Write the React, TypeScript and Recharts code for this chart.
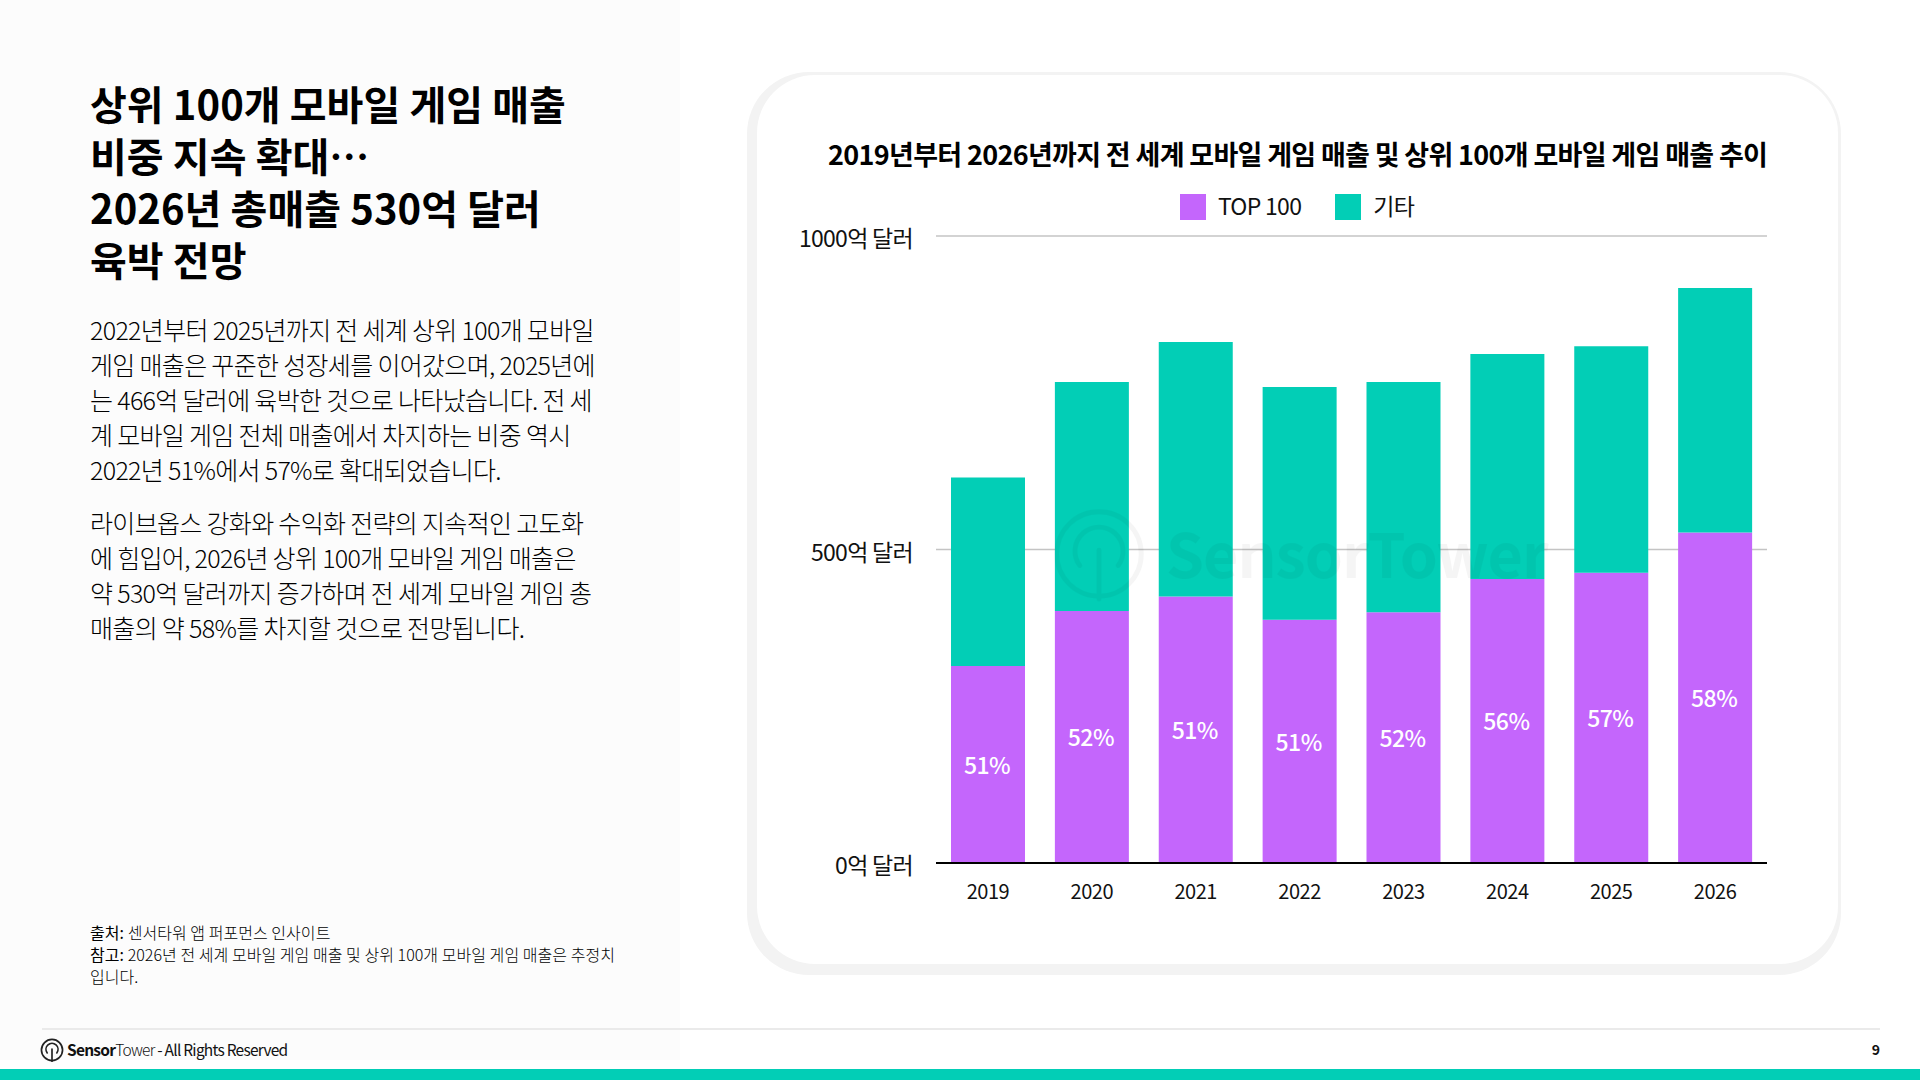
import { Bar, BarChart, CartesianGrid, LabelList, Legend, XAxis, YAxis } from "recharts";

const FONT = '"Noto Sans CJK KR", "Noto Sans", sans-serif';
const PURPLE = "#C466FC";
const TEAL = "#02CEB6";

const years = ["2019", "2020", "2021", "2022", "2023", "2024", "2025", "2026"];
const top100 = [314, 402, 425, 388, 400, 453, 463, 527];
const others = [301, 365, 406, 371, 367, 359, 361, 390];
const shares = [51, 52, 51, 51, 52, 56, 57, 58];
const yTicks = [0, 500, 1000];

const headingLines = ["상위 100개 모바일 게임 매출", "비중 지속 확대…", "2026년 총매출 530억 달러", "육박 전망"];
const para1 = [
  "2022년부터 2025년까지 전 세계 상위 100개 모바일",
  "게임 매출은 꾸준한 성장세를 이어갔으며, 2025년에",
  "는 466억 달러에 육박한 것으로 나타났습니다. 전 세",
  "계 모바일 게임 전체 매출에서 차지하는 비중 역시",
  "2022년 51%에서 57%로 확대되었습니다.",
];
const para2 = [
  "라이브옵스 강화와 수익화 전략의 지속적인 고도화",
  "에 힘입어, 2026년 상위 100개 모바일 게임 매출은",
  "약 530억 달러까지 증가하며 전 세계 모바일 게임 총",
  "매출의 약 58%를 차지할 것으로 전망됩니다.",
];

const data = years.map((year, i) => ({
  year,
  top100: top100[i],
  others: others[i],
  share: shares[i],
}));

function Logo({ size, color, width }: { size: number; color: string; width: number }) {
  return (
    <svg width={size} height={size} viewBox="0 0 100 100" style={{ display: "block" }}>
      <g fill="none" stroke={color} strokeWidth={width} strokeLinecap="round">
        <circle cx="50" cy="50" r="44" />
        <path d="M30 62 A25 25 0 1 1 70 62" />
        <path d="M50 46 V97" />
      </g>
    </svg>
  );
}

function Lines({
  lines,
  top,
  lineHeight,
  style,
}: {
  lines: string[];
  top: number;
  lineHeight: number;
  style: React.CSSProperties;
}) {
  return (
    <div style={{ position: "absolute", left: 90, top, lineHeight: `${lineHeight}px`, whiteSpace: "nowrap", ...style }}>
      {lines.map((line) => (
        <div key={line}>{line}</div>
      ))}
    </div>
  );
}

export default function App() {
  return (
    <div
      style={{
        position: "absolute",
        left: 0,
        top: 0,
        width: 1920,
        height: 1080,
        background: "#fff",
        overflow: "hidden",
        fontFamily: FONT,
        color: "#111",
      }}
    >
      <div style={{ position: "absolute", left: 0, top: 0, width: 680, height: 1060, background: "#fcfcfc" }} />

      <Lines
        lines={headingLines}
        top={76.5}
        lineHeight={52}
        style={{ fontSize: 40, fontWeight: 700, letterSpacing: 0.05, color: "#000" }}
      />
      <Lines lines={para1} top={312} lineHeight={34.9} style={{ fontSize: 25, fontWeight: 300, letterSpacing: -0.67, color: "#000" }} />
      <Lines lines={para2} top={505} lineHeight={35} style={{ fontSize: 25, fontWeight: 300, letterSpacing: -0.67, color: "#000" }} />

      <div style={{ position: "absolute", left: 90, top: 921, fontSize: 16, fontWeight: 300, lineHeight: "22px", letterSpacing: 0.05, whiteSpace: "nowrap", color: "#000" }}>
        <div>
          <b>출처:</b> 센서타워 앱 퍼포먼스 인사이트
        </div>
        <div>
          <b>참고:</b> 2026년 전 세계 모바일 게임 매출 및 상위 100개 모바일 게임 매출은 추정치
        </div>
        <div>입니다.</div>
      </div>

      {/* card */}
      <div style={{ position: "absolute", left: 747, top: 72, width: 1094, height: 903, borderRadius: 62, background: "#f3f3f3" }} />
      <div style={{ position: "absolute", left: 757, top: 75, width: 1081, height: 889, borderRadius: 58, background: "#fff" }} />

      <div
        style={{
          position: "absolute",
          left: 757,
          width: 1081,
          top: 134,
          paddingLeft: 71,
          boxSizing: "border-box",
          fontSize: 27,
          lineHeight: "40px",
          fontWeight: 700,
          letterSpacing: -0.68,
          whiteSpace: "nowrap",
          color: "#000",
        }}
      >
        2019년부터 2026년까지 전 세계 모바일 게임 매출 및 상위 100개 모바일 게임 매출 추이
      </div>

      <div style={{ position: "absolute", left: 757, top: 180 }}>
        <BarChart
          width={1081}
          height={740}
          data={data}
          margin={{ top: 56, right: 71, bottom: 0, left: 0 }}
        >
          <CartesianGrid vertical={false} horizontalValues={yTicks} stroke="#c4c4c4" strokeWidth={1.5} />
          <XAxis
            dataKey="year"
            height={57}
            tickLine={false}
            axisLine={{ stroke: "#000", strokeWidth: 2 }}
            tickMargin={16}
            tick={{ fontSize: 20, fill: "#111", letterSpacing: -0.5 }}
          />
          <YAxis
            type="number"
            width={179}
            domain={[0, 1000]}
            ticks={yTicks}
            tickFormatter={(v: number) => `${v}억 달러`}
            axisLine={false}
            tickLine={false}
            tickMargin={17}
            tick={{ fontSize: 23, fill: "#111", letterSpacing: -0.7, dy: 3 }}
          />
          <Legend
            layout="horizontal"
            align="center"
            verticalAlign="middle"
            iconType="square"
            iconSize={26}
            wrapperStyle={{ top: 4, left: 357, width: 400, height: 26, padding: 0, margin: 0 }}
            formatter={(value: string) => (
              <span style={{ color: "#111", fontSize: 23, letterSpacing: -0.7, marginLeft: 8, marginRight: 24, position: "relative", top: 4 }}>
                {value}
              </span>
            )}
          />
          <Bar dataKey="top100" name="TOP 100" stackId="a" fill={PURPLE} barSize={74} isAnimationActive={false}>
            <LabelList
              dataKey="share"
              position="center"
              formatter={(v: number) => `${v}%`}
              fill="#fff"
              fontSize={23}
              fontWeight={500}
              letterSpacing={-0.6}
              dx={-1}
              dy={1}
            />
          </Bar>
          <Bar dataKey="others" name="기타" stackId="a" fill={TEAL} barSize={74} isAnimationActive={false} />
        </BarChart>
      </div>

      {/* watermark */}
      <div style={{ position: "absolute", left: 1051, top: 506, opacity: 0.035, pointerEvents: "none" }}>
        <Logo size={96} color="#000" width={5} />
      </div>
      <div
        style={{
          position: "absolute",
          left: 1166,
          top: 515,
          fontSize: 61,
          lineHeight: "74px",
          fontWeight: 700,
          letterSpacing: -1,
          color: "#000",
          opacity: 0.035,
          whiteSpace: "nowrap",
          pointerEvents: "none",
        }}
      >
        SensorTower
      </div>

      {/* footer */}
      <div style={{ position: "absolute", left: 42, right: 40, top: 1028, height: 1.5, background: "#eaeaea" }} />
      <div style={{ position: "absolute", left: 40, top: 1038 }}>
        <Logo size={24} color="#222" width={7} />
      </div>
      <div style={{ position: "absolute", left: 67, top: 1038, fontSize: 15.5, lineHeight: "22px", letterSpacing: -0.75, whiteSpace: "nowrap" }}>
        <b>Sensor</b>
        <span style={{ fontWeight: 300 }}>Tower</span> - All Rights Reserved
      </div>
      <div style={{ position: "absolute", right: 40, top: 1038, fontSize: 14, lineHeight: "22px", fontWeight: 700 }}>9</div>
      <div style={{ position: "absolute", left: 0, right: 0, top: 1069, height: 11, background: TEAL }} />
    </div>
  );
}
